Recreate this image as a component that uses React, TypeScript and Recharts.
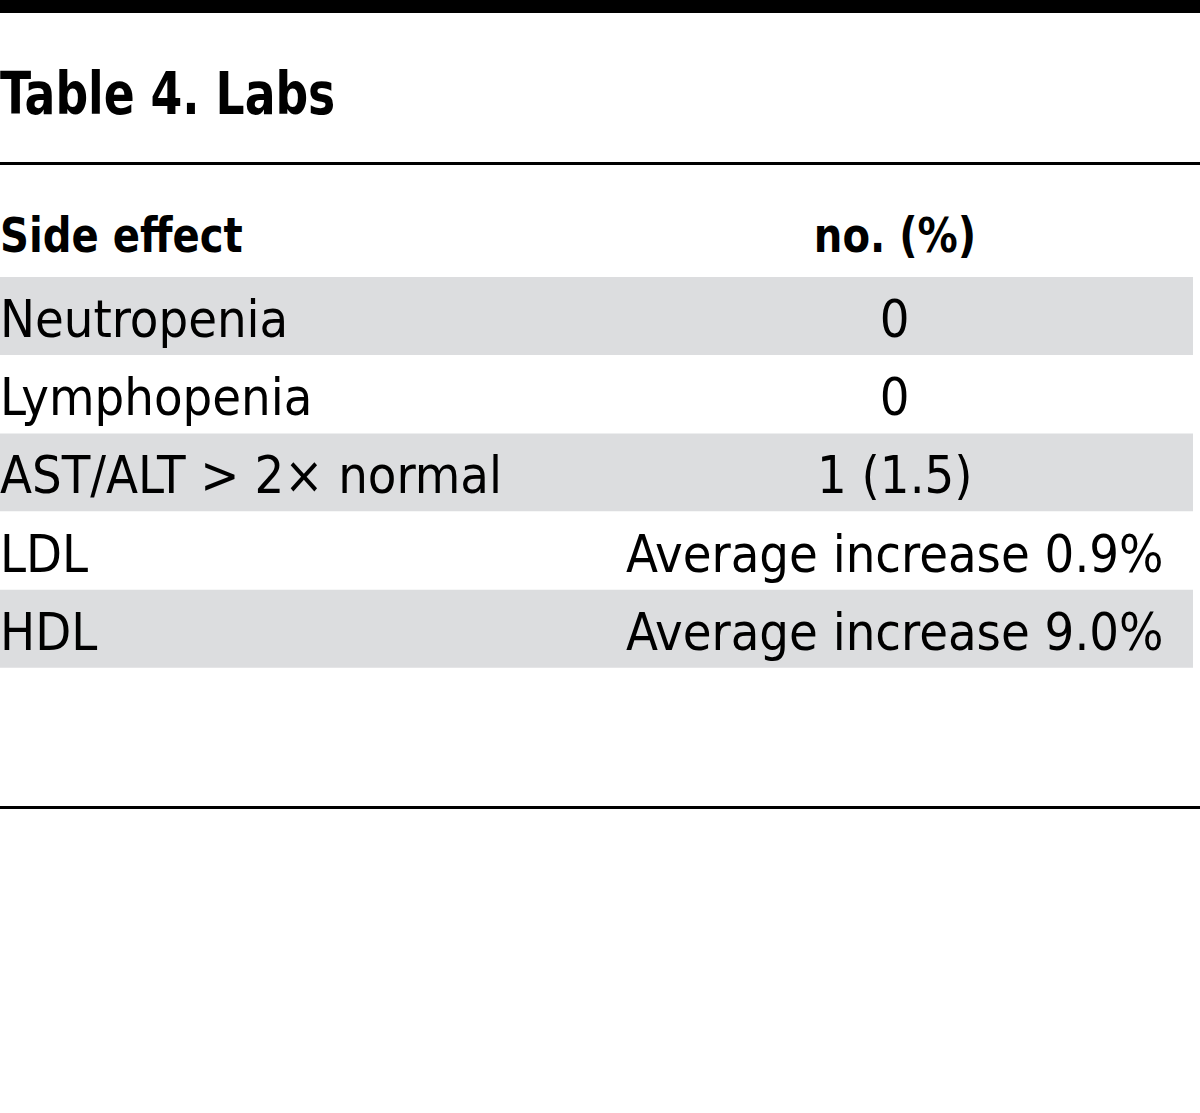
import React from 'react';
import { BarChart, Bar, XAxis, YAxis, Cell, LabelList } from 'recharts';

const sideEffects = ['Neutropenia', 'Lymphopenia', 'AST/ALT > 2\u00d7 normal', 'LDL', 'HDL'];
const counts = ['0', '0', '1 (1.5)', 'Average increase 0.9%', 'Average increase 9.0%'];
const shaded = [true, false, true, false, true];

const rows = sideEffects.map((effect, i) => ({
  effect,
  count: counts[i],
  shaded: shaded[i],
  band: 1
}));

const FONT = "'DejaVu Sans Condensed', 'Liberation Sans Narrow', 'Roboto Condensed', sans-serif";

const EffectLabel = (props: any) => {
  const { y, height, value } = props;
  return <text x={0} y={y + height / 2 + 21} fontSize={52} fontFamily={FONT} fill="#000" textAnchor="start">
      {value}
    </text>;
};

const CountLabel = (props: any) => {
  const { x, y, width, height, value } = props;
  return <text x={x + width * 0.75} y={y + height / 2 + 21} fontSize={52} fontFamily={FONT} fill="#000" textAnchor="middle">
      {value}
    </text>;
};

const App = () => {
  return <div style={{
    position: 'absolute',
    left: 0,
    top: 0,
    width: 1200,
    height: 1113,
    background: '#fff',
    fontFamily: FONT,
    color: '#000'
  }}>
      <div style={{ position: 'absolute', left: 0, top: 0, width: 1200, height: 13, background: '#000' }} />
      <div style={{ position: 'absolute', left: 0, top: 54, fontSize: 59, fontWeight: 'bold', lineHeight: '80px', transform: 'scaleX(0.86)', transformOrigin: 'left', whiteSpace: 'nowrap' }}>
        Table 4. Labs
      </div>
      <div style={{ position: 'absolute', left: 0, top: 162, width: 1200, height: 3, background: '#000' }} />
      <div style={{ position: 'absolute', left: 0, top: 203, fontSize: 48, fontWeight: 'bold', lineHeight: '64px', transform: 'scaleX(0.93)', transformOrigin: 'left', whiteSpace: 'nowrap' }}>
        Side effect
      </div>
      <div style={{ position: 'absolute', left: 795, width: 200, textAlign: 'center', top: 203, fontSize: 48, fontWeight: 'bold', lineHeight: '64px', transform: 'scaleX(0.93)', whiteSpace: 'nowrap' }}>
        no. (%)
      </div>
      <div style={{ position: 'absolute', left: 0, top: 277 }}>
        <BarChart width={1200} height={391} data={rows} layout="vertical" margin={{
        top: 0,
        right: 7,
        left: 0,
        bottom: 0
      }} barCategoryGap={0}>
          <XAxis type="number" domain={[0, 1]} hide />
          <YAxis type="category" dataKey="effect" width={0} axisLine={false} tickLine={false} tick={false} />
          <Bar dataKey="band" isAnimationActive={false}>
            {rows.map((r, i) => <Cell key={i} fill={r.shaded ? '#dcdddf' : '#ffffff'} />)}
            <LabelList dataKey="effect" content={<EffectLabel />} />
            <LabelList dataKey="count" content={<CountLabel />} />
          </Bar>
        </BarChart>
      </div>
      <div style={{ position: 'absolute', left: 0, top: 806, width: 1200, height: 3, background: '#000' }} />
    </div>;
};

export default App;
